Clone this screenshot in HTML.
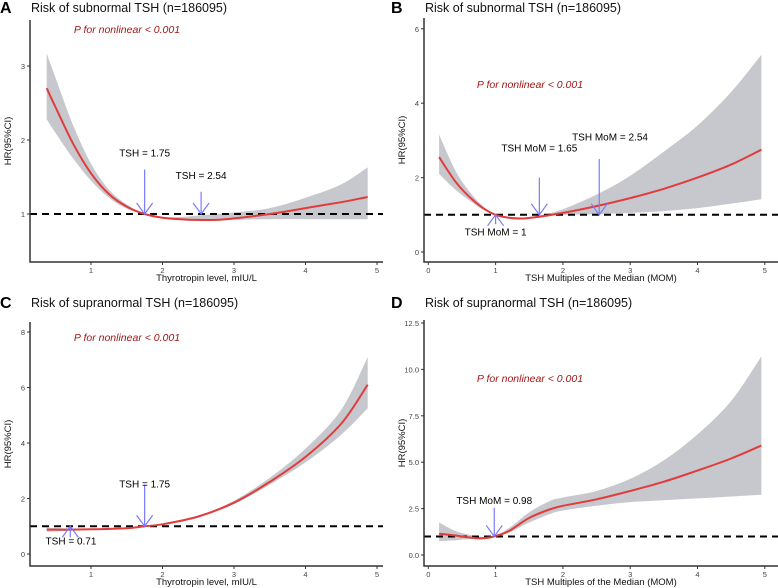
<!DOCTYPE html>
<html><head><meta charset="utf-8"><style>
body{margin:0;background:#fff;}
svg{display:block;font-family:"Liberation Sans",Arial,sans-serif;}
</style></head><body>
<svg id="fig" width="778" height="588" viewBox="0 0 778 588"></svg>
<script>
// Panel A
const aX=[0.38,0.5,0.75,1.0,1.25,1.5,1.75,2.0,2.25,2.5,2.75,3.0,3.5,4.0,4.5,4.87];
const aHR=[2.7,2.45,1.95,1.55,1.27,1.1,1.0,0.95,0.93,0.92,0.92,0.94,1.0,1.08,1.16,1.23];
const aLo=[2.28,2.1,1.75,1.45,1.22,1.07,1.0,0.94,0.92,0.91,0.91,0.92,0.93,0.93,0.93,0.93];
const aHi=[3.17,2.85,2.2,1.68,1.33,1.13,1.0,0.96,0.96,0.98,1.0,1.02,1.08,1.22,1.4,1.63];
// Panel B
const bX=[0.16,0.4,0.6,0.8,1.0,1.2,1.4,1.65,2.0,2.54,3.0,3.5,4.0,4.5,4.95];
const bHR=[2.55,1.9,1.5,1.2,1.0,0.92,0.9,0.95,1.05,1.25,1.45,1.7,2.0,2.35,2.75];
const bLo=[2.1,1.68,1.4,1.15,1.0,0.9,0.89,0.95,1.0,1.02,1.05,1.1,1.18,1.3,1.42];
const bHi=[3.15,2.2,1.65,1.25,1.0,0.93,0.92,0.98,1.15,1.58,2.05,2.7,3.4,4.3,5.3];
// Panel C
const cX=[0.38,0.71,1.0,1.5,1.75,2.0,2.5,3.0,3.5,4.0,4.5,4.87];
const cHR=[0.88,0.88,0.89,0.93,1.0,1.07,1.35,1.85,2.6,3.5,4.7,6.1];
const cLo=[0.8,0.84,0.87,0.92,1.0,1.05,1.32,1.8,2.5,3.3,4.3,5.25];
const cHi=[0.95,0.92,0.92,0.95,1.0,1.09,1.38,1.92,2.75,3.8,5.2,7.1];
// Panel D
const dX=[0.16,0.4,0.6,0.8,0.98,1.2,1.5,1.8,2.0,2.5,3.0,3.5,4.0,4.5,4.95];
const dHR=[1.15,1.05,0.95,0.9,1.0,1.3,2.0,2.45,2.65,3.0,3.45,3.95,4.55,5.2,5.9];
const dLo=[0.75,0.8,0.85,0.85,0.98,1.2,1.75,2.2,2.4,2.65,2.85,2.95,3.05,3.15,3.25];
const dHi=[1.75,1.3,1.1,0.98,1.02,1.45,2.3,2.9,3.1,3.45,4.1,5.1,6.5,8.3,10.7];
// tick labels
const xTicksTSH=[1,2,3,4,5];
const xTicksMOM=[0,1,2,3,4,5];
const yTicksA=[1,2,3];
const yTicksB=[0,2,4,6];
const yTicksC=[0,2,4,6,8];
const yTicksD=[0,2.5,5,7.5,10,12.5];

const NS="http://www.w3.org/2000/svg";
const svg=document.getElementById('fig');
function mk(tag,attrs,parent,text){const e=document.createElementNS(NS,tag);for(const k in attrs)e.setAttribute(k,attrs[k]);if(text!==undefined)e.textContent=text;(parent||svg).appendChild(e);return e;}
function smooth(pts){let d="M"+pts[0][0].toFixed(1)+","+pts[0][1].toFixed(1);for(let i=0;i<pts.length-1;i++){const p0=pts[i-1]||pts[i],p1=pts[i],p2=pts[i+1],p3=pts[i+2]||p2;const c1=[p1[0]+(p2[0]-p0[0])/6,p1[1]+(p2[1]-p0[1])/6],c2=[p2[0]-(p3[0]-p1[0])/6,p2[1]-(p3[1]-p1[1])/6];d+=" C"+c1[0].toFixed(1)+","+c1[1].toFixed(1)+" "+c2[0].toFixed(1)+","+c2[1].toFixed(1)+" "+p2[0].toFixed(1)+","+p2[1].toFixed(1);}return d;}

function panel(o){
  const g=mk('g',{});
  
  
  const sx=v=>o.x0+(v-o.xa)*o.xs, sy=v=>o.y0-(v-o.ya)*o.ys;
  const L=mk('text',{x:o.lx,y:o.ty,'font-size':16,'font-weight':'bold',fill:'#000'},g,o.letter);
  
  const T=mk('text',{x:o.axL+1,y:o.ty-1,'font-size':12.5,fill:'#111'},g,o.title);
  
  const up=o.X.map((v,i)=>[sx(v),sy(o.Hi[i])]), lo=o.X.map((v,i)=>[sx(v),sy(o.Lo[i])]).reverse();
  let d=smooth(up)+" L"+lo[0][0].toFixed(1)+","+lo[0][1].toFixed(1)+smooth(lo).replace(/^M[^ C]+/,'')+" Z";
  const band=mk('path',{d:d,fill:'#c7c8cd',stroke:'none'},g);
  
  const ref=mk('line',{x1:o.axL,x2:o.axR,y1:sy(1),y2:sy(1),stroke:'#000','stroke-width':2,'stroke-dasharray':'7,5'},g);
  
  const cv=mk('path',{d:smooth(o.X.map((v,i)=>[sx(v),sy(o.HR[i])])),fill:'none',stroke:'#e03c3c','stroke-width':2},g);
  
  const ax=mk('path',{d:`M${o.axL},${o.axT} V${o.axB} H${o.axR}`,fill:'none',stroke:'#333','stroke-width':1.5},g);
  
  o.xt.forEach(t=>{mk('line',{x1:sx(t),x2:sx(t),y1:o.axB,y2:o.axB+3,stroke:'#333'},g);
    const e=mk('text',{x:sx(t),y:o.axB+11,'font-size':7.5,fill:'#444','text-anchor':'middle'},g,String(t));
    });
  o.yt.forEach(t=>{mk('line',{x1:o.axL-3,x2:o.axL,y1:sy(t),y2:sy(t),stroke:'#333'},g);
    const e=mk('text',{x:o.axL-5,y:sy(t)+3,'font-size':7.5,fill:'#444','text-anchor':'end'},g,t%1?t.toFixed(1):(o.dec?t.toFixed(1):String(t)));
    });
  const xt=mk('text',{x:(o.axL+o.axR)/2,y:o.axB+19,'font-size':9.5,fill:'#111','text-anchor':'middle'},g,o.xlab);
  
  const yy=(o.axT+o.axB)/2;
  const yt=mk('text',{x:o.axL-19,y:yy,'font-size':9.5,fill:'#111','text-anchor':'middle',transform:`rotate(-90 ${o.axL-19} ${yy})`},g,'HR(95%CI)');
  
  const p=mk('text',{x:o.px,y:o.py,'font-size':10.5,fill:'#a01818','font-style':'italic','text-anchor':'middle'},g,'P for nonlinear < 0.001');
  
  o.arrows.forEach(a=>{
    const X=sx(a.x),Y1=sy(a.from),Y2=sy(1),dir=Y2>Y1?1:-1;
    const ag=mk('g',{stroke:'#7a7aff','stroke-width':1.2,fill:'none'},g);
    
    mk('line',{x1:X,x2:X,y1:Y1,y2:Y2},ag);
    mk('path',{d:`M${X-8},${Y2-dir*11} L${X},${Y2} L${X+8},${Y2-dir*11}`},ag);
    const lt=mk('text',{x:sx(a.lx),y:sy(a.ly),'font-size':10,fill:'#000','text-anchor':'middle'},g,a.label);
    
  });
}
panel({letter:'A',lx:0,ty:13,title:'Risk of subnormal TSH (n=186095)',X:aX,HR:aHR,Lo:aLo,Hi:aHi,
  x0:91,xa:1,xs:71.5,y0:214,ya:1,ys:74,axL:30,axR:383,axT:20,axB:262,xt:xTicksTSH,yt:yTicksA,
  xlab:'Thyrotropin level, mIU/L',px:127,py:33,
  arrows:[{x:1.75,from:1.6,label:'TSH = 1.75',lx:1.75,ly:1.78},{x:2.54,from:1.3,label:'TSH = 2.54',lx:2.54,ly:1.47}]});
panel({letter:'B',lx:391,ty:13,title:'Risk of subnormal TSH (n=186095)',X:bX,HR:bHR,Lo:bLo,Hi:bHi,
  x0:428.3,xa:0,xs:67.3,y0:252,ya:0,ys:37.2,axL:424,axR:778,axT:18,axB:262,xt:xTicksMOM,yt:yTicksB,
  xlab:'TSH Multiples of the Median (MOM)',px:530,py:88,
  arrows:[{x:1,from:0.75,label:'TSH MoM = 1',lx:1,ly:0.45},{x:1.65,from:2.0,label:'TSH MoM = 1.65',lx:1.65,ly:2.7},{x:2.54,from:2.5,label:'TSH MoM = 2.54',lx:2.7,ly:3.0}]});
panel({letter:'C',lx:0,ty:308,title:'Risk of supranormal TSH (n=186095)',X:cX,HR:cHR,Lo:cLo,Hi:cHi,
  x0:91,xa:1,xs:71.5,y0:554,ya:0,ys:27.75,axL:30,axR:383,axT:322,axB:566,xt:xTicksTSH,yt:yTicksC,
  xlab:'Thyrotropin level, mIU/L',px:127,py:341,
  arrows:[{x:0.71,from:0.6,label:'TSH = 0.71',lx:0.72,ly:0.35},{x:1.75,from:2.5,label:'TSH = 1.75',lx:1.75,ly:2.4}]});
panel({letter:'D',lx:391,ty:308,title:'Risk of supranormal TSH (n=186095)',X:dX,HR:dHR,Lo:dLo,Hi:dHi,
  x0:428.3,xa:0,xs:67.3,y0:555,ya:0,ys:18.56,axL:424,axR:778,axT:320,axB:566,xt:xTicksMOM,yt:yTicksD,dec:true,
  xlab:'TSH Multiples of the Median (MOM)',px:530,py:382,
  arrows:[{x:0.98,from:2.55,label:'TSH MoM = 0.98',lx:0.98,ly:2.75}]});
</script>
</body></html>
